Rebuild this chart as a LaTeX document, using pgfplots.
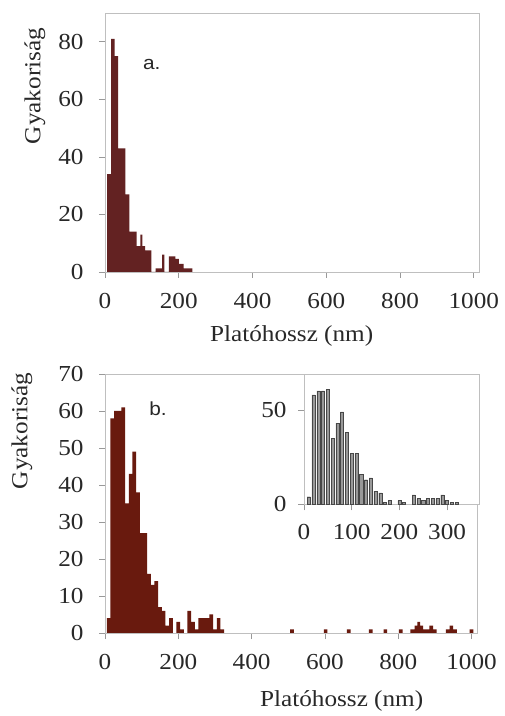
\documentclass[border=0pt]{standalone}
\usepackage{fontspec}
\setmainfont{Liberation Serif}[FakeStretch=1.1]
\newfontfamily\sansab{Liberation Sans}[FakeStretch=1.1]
\usepackage{pgfplots}
\pgfplotsset{compat=1.18}
\definecolor{topred}{RGB}{99,34,34}
\definecolor{botred}{RGB}{105,26,14}
\definecolor{txt}{RGB}{40,40,40}
\pgfplotsset{
  myaxis/.style={
    scale only axis, anchor=south west,
    axis line style={draw=black!25, line width=0.7bp},
    tick align=outside, xtick pos=left, ytick pos=left,
    major tick length=6bp,
    tick style={draw=black!40, line width=0.7bp},
    tick label style={font=\fontsize{23}{25}\selectfont, text=txt},
    xticklabel style={yshift=-12bp},
    yticklabel style={xshift=-12bp},
    /pgf/number format/assume math mode=true,
    /pgf/number format/1000 sep={},
    axis background/.style={fill=white},
  }
}
\begin{document}
\begin{tikzpicture}
\useasboundingbox (0,0) rectangle (505bp,716bp);
% ---------- a. ----------
\begin{axis}[myaxis, at={(105bp,444bp)}, width=374bp, height=259bp,
  xmin=0, xmax=1014, ymin=0, ymax=90,
  xtick={0,200,...,1000}, ytick={0,20,...,80}]
\addplot[const plot, fill=topred, draw=none] coordinates {
(5.5,34) (16.4,81) (26.3,75) (35.3,43) (55.2,27) (66.1,14) (86,9) (96,13) (101,9)
(109,7.5) (126,0) (137,1.3) (155,6) (161,0) (173,5.4) (191,4.6) (200,2.8) (213,1.3) (237,0)
} \closedcycle;
\end{axis}
% ---------- b. ----------
\begin{axis}[myaxis, at={(105bp,83bp)}, width=372bp, height=259bp,
  xmin=0, xmax=1015, ymin=0, ymax=70,
  xtick={0,200,...,1000}, ytick={0,10,...,70}]
\addplot[const plot, fill=botred, draw=none] coordinates {
(5,4) (15,58) (25,60) (45,61) (55,35) (65,43) (75,49) (85,38) (95,27) (115,16)
(125,13) (135,14) (145,7) (155,6) (165,2) (175,4) (185,0) (195,3) (205,1) (215,0)
(225,6) (235,3) (245,1) (255,4) (285,5) (295,1) (305,4) (315,1) (325,0)
(505,1) (515,0) (597,1) (607,0) (660,1) (670,0) (720,1) (730,0) (760,1) (770,0)
(802,1) (812,0) (833,1) (845,2) (852,3) (860,2) (868,1) (885,2) (895,1) (905,0)
(930,1) (940,2) (950,1) (960,0) (995,1) (1005,0)
} \closedcycle;
\end{axis}
% ---------- inset ----------
\begin{axis}[myaxis, at={(304bp,211.7bp)}, width=175bp, height=130.3bp,
  xmin=0, xmax=367, ymin=0, ymax=69,
  xtick={0,100,200,300}, ytick={0,50},
  xticklabel style={yshift=2bp}, yticklabel style={xshift=4bp}]
\addplot[ybar, bar width=6.5, fill=black!40, draw=black!72, line width=0.45bp] coordinates {
(10,4) (20,58) (30,60) (40,60) (50,61) (60,35) (70,43) (80,49) (90,38) (100,27)
(110,27) (120,16) (130,13) (140,14) (150,7) (160,6) (170,1) (180,2) (200,2) (210,1)
(230,5) (240,3) (250,2) (260,3) (270,3) (280,3) (290,5) (300,2) (310,1) (320,1)
};
\end{axis}
% ---------- texts ----------
\begin{scope}[every node/.style={text=txt, font=\fontsize{23}{25}\selectfont}]
\node at (151.7bp,651.5bp) {\sansab\fontsize{19}{21}\selectfont a.};
\node at (158bp,307.3bp) {\sansab\fontsize{19}{21}\selectfont b.};
\node at (291.7bp,380bp) {Platóhossz (nm)};
\node[rotate=90] at (35bp,630bp) {Gyakoriság};
\node at (341.7bp,15bp) {Platóhossz (nm)};
\node[rotate=90] at (22bp,285bp) {Gyakoriság};
\end{scope}
\end{tikzpicture}
\end{document}
